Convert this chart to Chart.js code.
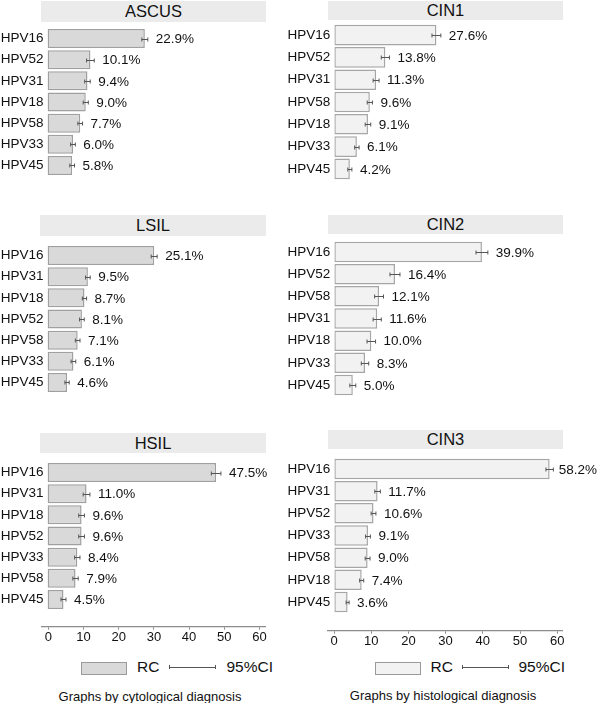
<!DOCTYPE html>
<html><head><meta charset="utf-8">
<script src="https://cdn.jsdelivr.net/npm/chart.js@4.4.1/dist/chart.umd.min.js"></script>
<style>
html,body{margin:0;padding:0;background:#fff;}
body{width:600px;height:703px;position:relative;overflow:hidden;font-family:"Liberation Sans",Arial,Helvetica,sans-serif;color:#111;}
canvas{position:absolute;}
.tbox{position:absolute;background:#ebebeb;text-align:center;font-size:16.5px;color:#111;}
.txt{position:absolute;white-space:nowrap;}
.lrect{position:absolute;border:1px solid #9a9a9a;box-sizing:border-box;}
.cil{position:absolute;height:0;border-top:1px solid #555;}
.cap{position:absolute;width:0;height:4px;border-left:1px solid #555;}
</style></head><body>

<div class="tbox" style="left:41px;top:1px;width:225px;height:20.5px;line-height:20.5px;">ASCUS</div>
<div class="tbox" style="left:40px;top:215px;width:226px;height:20.5px;line-height:20.5px;">LSIL</div>
<div class="tbox" style="left:40px;top:432.5px;width:226px;height:20px;line-height:20px;">HSIL</div>
<div class="tbox" style="left:328px;top:1px;width:235px;height:18.5px;line-height:18.5px;">CIN1</div>
<div class="tbox" style="left:328px;top:215px;width:235px;height:18.5px;line-height:18.5px;">CIN2</div>
<div class="tbox" style="left:328px;top:430px;width:235px;height:18.5px;line-height:18.5px;">CIN3</div>

<!-- legends -->
<div class="lrect" style="left:81px;top:662px;width:46px;height:13px;background:#d9d9d9;"></div>
<div class="txt" style="left:137px;top:658px;font-size:15.5px;line-height:18px;">RC</div>
<div class="cil" style="left:169px;top:667px;width:47px;"></div>
<div class="cap" style="left:169px;top:665px;"></div>
<div class="cap" style="left:215px;top:665px;"></div>
<div class="txt" style="left:226.5px;top:658px;font-size:15.5px;line-height:18px;">95%CI</div>
<div class="txt" style="left:0;width:300px;text-align:center;top:688.5px;font-size:13px;line-height:16px;">Graphs by cytological diagnosis</div>

<div class="lrect" style="left:375px;top:662px;width:46px;height:13px;background:#f2f2f2;"></div>
<div class="txt" style="left:430.5px;top:658px;font-size:15.5px;line-height:18px;">RC</div>
<div class="cil" style="left:462px;top:667px;width:47px;"></div>
<div class="cap" style="left:462px;top:665px;"></div>
<div class="cap" style="left:508px;top:665px;"></div>
<div class="txt" style="left:518.5px;top:658px;font-size:15.5px;line-height:18px;">95%CI</div>
<div class="txt" style="left:349px;width:188px;text-align:center;top:688px;font-size:13px;line-height:16px;">Graphs by histological diagnosis</div>

<script>
// ---------- DATA ----------
const ascusLabels = ["HPV16","HPV52","HPV31","HPV18","HPV58","HPV33","HPV45"];
const ascusRC     = [22.9, 10.1, 9.4, 9.0, 7.7, 6.0, 5.8];
const ascusLo     = [22.2, 9.2, 8.75, 8.4, 7.15, 5.45, 5.25];
const ascusHi     = [23.6, 11.0, 10.05, 9.6, 8.25, 6.55, 6.35];

const lsilLabels = ["HPV16","HPV31","HPV18","HPV52","HPV58","HPV33","HPV45"];
const lsilRC     = [25.1, 9.5, 8.7, 8.1, 7.1, 6.1, 4.6];
const lsilLo     = [24.4, 8.95, 8.2, 7.55, 6.55, 5.55, 4.1];
const lsilHi     = [25.8, 10.05, 9.2, 8.65, 7.65, 6.65, 5.1];

const hsilLabels = ["HPV16","HPV31","HPV18","HPV52","HPV33","HPV58","HPV45"];
const hsilRC     = [47.5, 11.0, 9.6, 9.6, 8.4, 7.9, 4.5];
const hsilLo     = [46.15, 10.05, 8.8, 8.8, 7.65, 7.15, 3.8];
const hsilHi     = [48.85, 11.95, 10.4, 10.4, 9.15, 8.65, 5.2];

const cin1Labels = ["HPV16","HPV52","HPV31","HPV58","HPV18","HPV33","HPV45"];
const cin1RC     = [27.6, 13.8, 11.3, 9.6, 9.1, 6.1, 4.2];
const cin1Lo     = [26.4, 12.7, 10.5, 8.9, 8.35, 5.5, 3.65];
const cin1Hi     = [28.8, 14.9, 12.1, 10.3, 9.85, 6.7, 4.75];

const cin2Labels = ["HPV16","HPV52","HPV58","HPV31","HPV18","HPV33","HPV45"];
const cin2RC     = [39.9, 16.4, 12.1, 11.6, 10.0, 8.3, 5.0];
const cin2Lo     = [38.3, 15.05, 10.9, 10.5, 8.85, 7.3, 4.2];
const cin2Hi     = [41.5, 17.75, 13.3, 12.7, 11.15, 9.3, 5.8];

const cin3Labels = ["HPV16","HPV31","HPV52","HPV33","HPV58","HPV18","HPV45"];
const cin3RC     = [58.2, 11.7, 10.6, 9.1, 9.0, 7.4, 3.6];
const cin3Lo     = [57.2, 10.95, 9.95, 8.45, 8.35, 6.85, 3.2];
const cin3Hi     = [59.2, 12.45, 11.25, 9.75, 9.65, 7.95, 4.0];

const xTicks = [0, 10, 20, 30, 40, 50, 60];

// ---------- STYLE ----------
const FONT = '"Liberation Sans", Arial, Helvetica, sans-serif';
const styles = {
  left:  {x:0,   w:300, leftW:47.5, fill:'#d9d9d9', stroke:'#a0a0a0', bp:0.9},
  right: {x:280, w:320, leftW:54.3, fill:'#f2f2f2', stroke:'#a6a6a6', bp:0.925}
};

const ciPlugin = {
  id:'ci',
  afterDatasetsDraw(chart){
    const ctx = chart.ctx, xs = chart.scales.x;
    const ds = chart.data.datasets[0];
    const meta = chart.getDatasetMeta(0);
    ctx.save();
    meta.data.forEach((bar, i) => {
      const y = Math.round(bar.y) + 0.5;
      const x1 = xs.getPixelForValue(ds.lo[i]);
      const x2 = xs.getPixelForValue(ds.hi[i]);
      ctx.strokeStyle = '#555';
      ctx.lineWidth = 1;
      ctx.beginPath();
      ctx.moveTo(x1, y); ctx.lineTo(x2, y);
      ctx.moveTo(x1, y - 2); ctx.lineTo(x1, y + 2);
      ctx.moveTo(x2, y - 2); ctx.lineTo(x2, y + 2);
      ctx.stroke();
      ctx.font = '13.5px ' + FONT;
      ctx.fillStyle = '#111';
      ctx.textBaseline = 'middle';
      ctx.textAlign = 'left';
      const t = ds.data[i].toFixed(1) + '%';
      const w = ctx.measureText(t).width;
      const tx = Math.min(x2 + 8, chart.width - w - 3);
      ctx.fillText(t, tx, bar.y + 1);
    });
    ctx.restore();
  }
};

function makePanel(labels, rc, lo, hi, side, top, h, pxPerUnit){
  const st = styles[side];
  const cv = document.createElement('canvas');
  cv.width = st.w; cv.height = h;
  cv.style.left = st.x + 'px'; cv.style.top = top + 'px';
  cv.style.width = st.w + 'px'; cv.style.height = h + 'px';
  document.body.appendChild(cv);
  const xmax = (st.w - st.leftW) / pxPerUnit;
  new Chart(cv, {
    type:'bar',
    data:{labels:labels, datasets:[{data:rc, lo:lo, hi:hi,
      backgroundColor:st.fill, borderColor:st.stroke, borderWidth:1.5, borderSkipped:false,
      barPercentage:st.bp, categoryPercentage:1}]},
    options:{
      indexAxis:'y', responsive:false, animation:false, events:[],
      layout:{padding:0},
      plugins:{legend:{display:false}, tooltip:{enabled:false}, title:{display:false}},
      scales:{
        x:{display:false, min:0, max:xmax},
        y:{afterFit:s=>{s.width = st.leftW; s.paddingTop = 0; s.paddingBottom = 0;},
           grid:{display:false, drawTicks:false}, border:{display:false},
           ticks:{padding:4, color:'#111', font:{family:FONT, size:13.5}}}
      }
    },
    plugins:[ciPlugin]
  });
}

makePanel(ascusLabels, ascusRC, ascusLo, ascusHi, 'left', 28, 148, 4.25);
makePanel(lsilLabels,  lsilRC,  lsilLo,  lsilHi,  'left', 245, 148, 4.25);
makePanel(hsilLabels,  hsilRC,  hsilLo,  hsilHi,  'left', 462, 148, 3.55);
makePanel(cin1Labels,  cin1RC,  cin1Lo,  cin1Hi,  'right', 24, 156, 3.7);
makePanel(cin2Labels,  cin2RC,  cin2Lo,  cin2Hi,  'right', 241, 155, 3.7);
makePanel(cin3Labels,  cin3RC,  cin3Lo,  cin3Hi,  'right', 458, 155, 3.7);

function makeAxis(x, top, lineY, padL, padR, zeroX, pxPerUnit){
  const H = 60;
  const cv = document.createElement('canvas');
  cv.width = 300; cv.height = H;
  cv.style.left = x + 'px'; cv.style.top = top + 'px';
  cv.style.width = '300px'; cv.style.height = H + 'px';
  document.body.appendChild(cv);
  const min = (padL - zeroX) / pxPerUnit;
  const max = (300 - padR - zeroX) / pxPerUnit;
  new Chart(cv, {
    type:'scatter',
    data:{datasets:[{data:[]}]},
    options:{
      responsive:false, animation:false, events:[],
      layout:{padding:{left:padL, right:padR, top:0, bottom:0}},
      plugins:{legend:{display:false}, tooltip:{enabled:false}},
      scales:{
        x:{type:'linear', position:'bottom', min:min, max:max,
           afterBuildTicks:s=>{s.ticks = xTicks.map(v=>({value:v}));},
           afterFit:s=>{s.height = H - lineY;},
           border:{display:true, color:'#8c8c8c', width:1.3},
           grid:{display:true, drawOnChartArea:false, drawTicks:true, tickLength:3, color:'#8c8c8c', lineWidth:1},
           ticks:{padding:0, color:'#111', maxRotation:0, autoSkip:false, font:{family:FONT, size:13}}},
        y:{display:false}
      }
    }
  });
}
makeAxis(0, 600, 26.7, 41.7, 35, 48.3, 3.52);
makeAxis(300, 600, 30.7, 28, 37.3, 34, 3.72);
</script>
</body></html>
